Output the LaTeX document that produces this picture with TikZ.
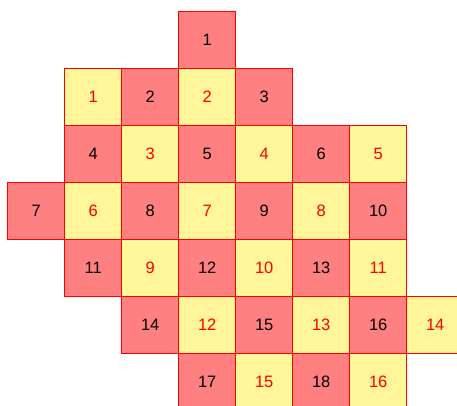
\documentclass[tikz,border=0pt]{standalone}
\usepackage{fontspec}
\setsansfont{Liberation Sans}
\usepackage{xcolor}
\usepackage{tikz}
\usetikzlibrary{positioning}
\definecolor{cellred}{HTML}{FF8080}
\definecolor{cellyellow}{HTML}{FFF599}

\begin{document}
\begin{tikzpicture}[x=1pt, y=1pt,
  node distance=0pt,
  cell/.style={draw=red, line width=1.2pt, minimum size=57pt, inner sep=0pt,
               outer sep=0pt, font=\sffamily\fontsize{16.5}{18}\selectfont},
  redcell/.style={cell, fill=cellred, text=black},
  yelcell/.style={cell, fill=cellyellow, text=red}]
\useasboundingbox (0,0) rectangle (457,-406);
% row 0
\node[redcell] (r1) at (207.2,-40.2) {1};
% row 1
\node[yelcell, below=of r1] (y2) {2};
\node[redcell, left=of y2] (r2) {2};
\node[yelcell, left=of r2] (y1) {1};
\node[redcell, right=of y2] (r3) {3};
% row 2
\node[redcell, below=of y2] (r5) {5};
\node[yelcell, left=of r5] (y3) {3};
\node[redcell, left=of y3] (r4) {4};
\node[yelcell, right=of r5] (y4) {4};
\node[redcell, right=of y4] (r6) {6};
\node[yelcell, right=of r6] (y5) {5};
% row 3
\node[yelcell, below=of r5] (y7) {7};
\node[redcell, left=of y7] (r8) {8};
\node[yelcell, left=of r8] (y6) {6};
\node[redcell, left=of y6] (r7) {7};
\node[redcell, right=of y7] (r9) {9};
\node[yelcell, right=of r9] (y8) {8};
\node[redcell, right=of y8] (r10) {10};
% row 4
\node[redcell, below=of y7] (r12) {12};
\node[yelcell, left=of r12] (y9) {9};
\node[redcell, left=of y9] (r11) {11};
\node[yelcell, right=of r12] (y10) {10};
\node[redcell, right=of y10] (r13) {13};
\node[yelcell, right=of r13] (y11) {11};
% row 5
\node[yelcell, below=of r12] (y12) {12};
\node[redcell, left=of y12] (r14) {14};
\node[redcell, right=of y12] (r15) {15};
\node[yelcell, right=of r15] (y13) {13};
\node[redcell, right=of y13] (r16) {16};
\node[yelcell, right=of r16] (y14) {14};
% row 6
\node[redcell, below=of y12] (r17) {17};
\node[yelcell, right=of r17] (y15) {15};
\node[redcell, right=of y15] (r18) {18};
\node[yelcell, right=of r18] (y16) {16};
\end{tikzpicture}
\end{document}
